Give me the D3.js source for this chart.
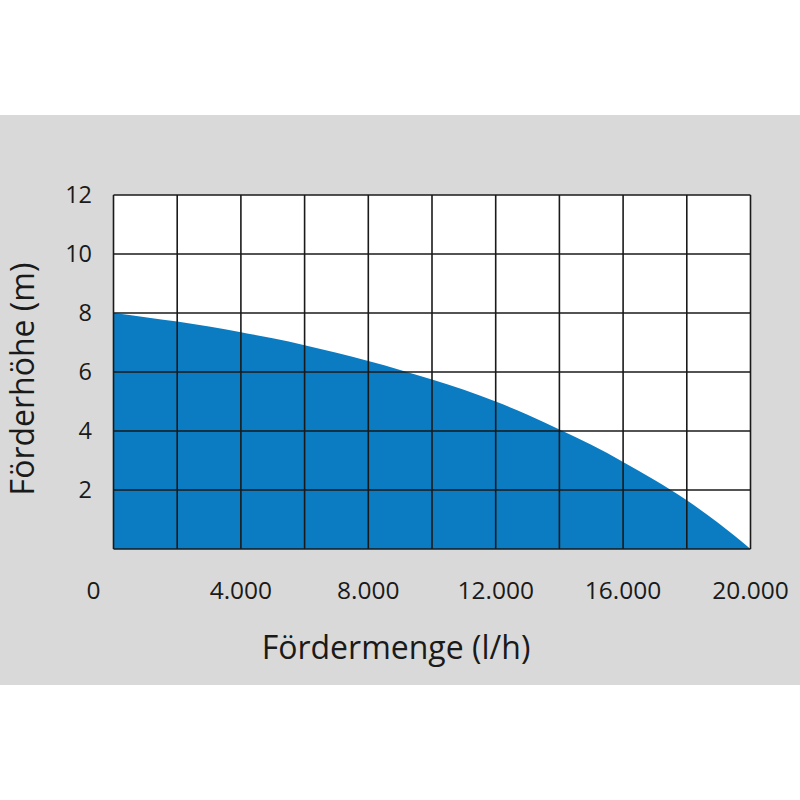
<!DOCTYPE html>
<html>
<head>
<meta charset="utf-8">
<script src="https://cdn.jsdelivr.net/npm/d3@7"></script>
<style>
  html, body { margin: 0; padding: 0; background: #fff; }
  svg { display: block; font-family: "Open Sans", sans-serif; }
</style>
</head>
<body>
<svg></svg>
<script>
// flow (l/h) and head (m)
const flow = [0, 1000, 2000, 3000, 4000, 5000, 6000, 7000, 8000, 9000, 10000, 11000, 12000, 13000, 14000, 15000, 16000, 17000, 18000, 19000, 20000];
const head = [8, 7.86, 7.71, 7.54, 7.35, 7.14, 6.91, 6.65, 6.37, 6.07, 5.75, 5.4, 5.0, 4.55, 4.05, 3.53, 2.95, 2.33, 1.65, 0.87, 0];

const xTicks = [0, 4000, 8000, 12000, 16000, 20000];
const yTicks = [2, 4, 6, 8, 10, 12];
const xGrid = d3.range(0, 20001, 2000);
const yGrid = d3.range(0, 13, 2);

const size = { w: 800, h: 800 };
const plot = { l: 113.5, r: 750.5, t: 195, b: 549 };
const svg = d3.select("svg").attr("width", size.w).attr("height", size.h);

const de = d3.formatLocale({ decimal: ",", thousands: ".", grouping: [3], currency: ["", " €"] });
const fmt = de.format(",d");

// grey band behind the chart
svg.append("rect")
  .attr("x", 0).attr("y", 115)
  .attr("width", size.w).attr("height", 570)
  .attr("fill", "#d9d9d9");

const x = d3.scaleLinear().domain([0, 20000]).range([plot.l, plot.r]);
const y = d3.scaleLinear().domain([0, 12]).range([plot.b, plot.t]);

svg.append("rect")
  .attr("x", plot.l).attr("y", plot.t)
  .attr("width", plot.r - plot.l).attr("height", plot.b - plot.t)
  .attr("fill", "#fff");

const pts = flow.map((f, i) => [f, head[i]]);
const area = d3.area()
  .x(d => x(d[0]))
  .y0(y(0))
  .y1(d => y(d[1]))
  .curve(d3.curveMonotoneX);

svg.append("path")
  .datum(pts)
  .attr("d", area)
  .attr("fill", "#0b7cc2");

// grid on top of the fill
const grid = svg.append("g").attr("stroke", "#1a1a1a").attr("stroke-width", 1.6);
grid.selectAll("line.v").data(xGrid).enter().append("line")
  .attr("x1", d => x(d)).attr("x2", d => x(d))
  .attr("y1", plot.t).attr("y2", plot.b);
grid.selectAll("line.h").data(yGrid).enter().append("line")
  .attr("x1", plot.l).attr("x2", plot.r)
  .attr("y1", d => y(d)).attr("y2", d => y(d));

// tick labels
svg.append("g").selectAll("text").data(xTicks).enter().append("text")
  .attr("x", d => x(d))
  .attr("dx", d => d === 0 ? -20 : 0)
  .attr("y", 599)
  .attr("text-anchor", "middle")
  .attr("font-size", 24.5)
  .attr("fill", "#1a1a1a")
  .text(d => fmt(d));

svg.append("g").selectAll("text").data(yTicks).enter().append("text")
  .attr("x", 92)
  .attr("y", d => y(d))
  .attr("dy", "0.36em")
  .attr("text-anchor", "end")
  .attr("font-size", 23.5)
  .attr("fill", "#1a1a1a")
  .text(d => d);

// axis titles
svg.append("text")
  .attr("x", 396).attr("y", 659)
  .attr("text-anchor", "middle")
  .attr("font-size", 32)
  .attr("fill", "#1a1a1a")
  .text("Fördermenge (l/h)");

svg.append("text")
  .attr("transform", "translate(34,379) rotate(-90)")
  .attr("text-anchor", "middle")
  .attr("font-size", 32)
  .attr("fill", "#1a1a1a")
  .text("Förderhöhe (m)");
</script>
</body>
</html>
